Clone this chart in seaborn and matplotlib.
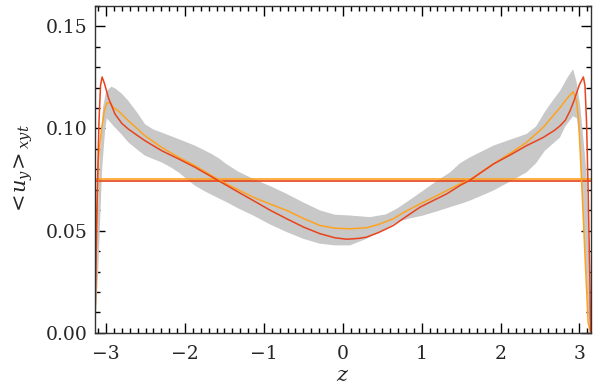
import matplotlib
matplotlib.use("Agg")
import matplotlib.pyplot as plt
import numpy as np
import pandas as pd
import seaborn as sns
from matplotlib.ticker import MultipleLocator

# red profile
z_red = [-3.1416, -3.13, -3.11, -3.09, -3.07, -3.05, -3.02, -2.97, -2.886, -2.80, -2.717, -2.60,
         -2.506, -2.294, -2.08, -1.872, -1.66, -1.50, -1.33, -1.133, -0.92, -0.71, -0.50, -0.288,
         -0.10, 0.05, 0.20, 0.30, 0.45, 0.64, 0.80, 0.98, 1.15, 1.318, 1.49, 1.613, 1.909, 2.12,
         2.33, 2.54, 2.68, 2.754, 2.82, 2.88, 2.93, 2.966, 3.00, 3.05, 3.07, 3.09, 3.11, 3.13, 3.1416]
u_red = [0.0, 0.030, 0.070, 0.103, 0.121, 0.1252, 0.122, 0.115, 0.107, 0.1025, 0.0997, 0.0965,
         0.094, 0.0891, 0.0851, 0.081, 0.0763, 0.0728, 0.0690, 0.0647, 0.0600, 0.0558, 0.0518, 0.0485,
         0.0465, 0.0458, 0.0462, 0.0468, 0.0490, 0.0525, 0.0568, 0.0615, 0.0648, 0.068, 0.0722, 0.0747, 0.0826, 0.0870,
         0.0916, 0.0956, 0.0990, 0.1013, 0.104, 0.1086, 0.1135, 0.1176, 0.1215, 0.1252, 0.121, 0.103, 0.070, 0.030, 0.0]

# orange profile
z_orange = [-3.1416, -3.13, -3.12, -3.097, -3.075, -3.054, -3.02, -2.987, -2.95, -2.90, -2.844, -2.717,
            -2.506, -2.294, -2.08, -1.872, -1.66, -1.555, -1.35, -1.133, -0.92, -0.71, -0.50, -0.288,
            -0.10, 0.093, 0.30, 0.45, 0.64, 0.80, 0.98, 1.15, 1.318, 1.487, 1.613, 1.909, 2.12, 2.33,
            2.54, 2.754, 2.85, 2.92, 2.96, 2.99, 3.03, 3.07, 3.11, 3.1416]
u_orange = [0.0, 0.025, 0.050, 0.084, 0.094, 0.1005, 0.109, 0.1127, 0.1125, 0.110, 0.1086, 0.1038,
            0.0964, 0.0907, 0.0859, 0.0818, 0.0769, 0.0745, 0.0705, 0.0663, 0.0630, 0.0599, 0.0560, 0.0525,
            0.0512, 0.0509, 0.0514, 0.0530, 0.0558, 0.0595, 0.0631, 0.0663, 0.0696, 0.0729, 0.0750, 0.0826, 0.0878, 0.0932,
            0.1005, 0.1102, 0.1150, 0.118, 0.114, 0.104, 0.072, 0.038, 0.005, 0.0]

# grey band, upper and lower edges
z_band_hi = [-3.1416, -3.12, -3.08, -3.04, -3.0, -2.93, -2.88, -2.80, -2.717, -2.60, -2.506, -2.40,
             -2.294, -2.08, -1.872, -1.66, -1.555, -1.49, -1.33, -1.133, -0.92, -0.71, -0.50, -0.288,
             -0.10, 0.093, 0.346, 0.55, 0.684, 0.85, 1.02, 1.20, 1.36, 1.487, 1.613, 1.909, 2.12, 2.33,
             2.45, 2.56, 2.65, 2.754, 2.85, 2.92, 2.966, 3.01, 3.05, 3.09, 3.11, 3.13, 3.1416]
u_band_hi = [0.0, 0.040, 0.085, 0.110, 0.118, 0.1205, 0.1195, 0.117, 0.1135, 0.1075, 0.1021, 0.0995,
             0.098, 0.0948, 0.0916, 0.0875, 0.0850, 0.0830, 0.0790, 0.0753, 0.0718, 0.068, 0.0638, 0.0599,
             0.0578, 0.0574, 0.0566, 0.0580, 0.0607, 0.0650, 0.0696, 0.0745, 0.0785, 0.0830, 0.0859, 0.0916, 0.0945, 0.0973,
             0.1010, 0.108, 0.1130, 0.1184, 0.1250, 0.129, 0.1224, 0.111, 0.0948, 0.0785, 0.057, 0.020, 0.0]
z_band_lo = [-3.1416, -3.10, -3.05, -3.01, -2.99, -2.90, -2.80, -2.717, -2.60, -2.506, -2.40, -2.294,
             -2.18, -2.08, -1.97, -1.872, -1.76, -1.66, -1.555, -1.45, -1.33, -1.133, -0.92, -0.71,
             -0.50, -0.288, -0.10, 0.093, 0.30, 0.50, 0.684, 0.85, 1.02, 1.20, 1.36, 1.487, 1.613,
             1.909, 2.12, 2.33, 2.45, 2.56, 2.754, 2.82, 2.92, 2.966, 3.0, 3.03, 3.07, 3.11, 3.1416]
u_band_lo = [0.0, 0.030, 0.080, 0.100, 0.105, 0.101, 0.097, 0.0932, 0.0895, 0.0867, 0.0850, 0.0834,
             0.0810, 0.0785, 0.0750, 0.0720, 0.0695, 0.0675, 0.0655, 0.0635, 0.0610, 0.0574, 0.0530, 0.0493,
             0.0460, 0.0436, 0.0428, 0.0428, 0.0460, 0.0500, 0.0541, 0.0560, 0.0574, 0.0595, 0.0615, 0.0630, 0.0647,
             0.0696, 0.0740, 0.0785, 0.0830, 0.0890, 0.0956, 0.1010, 0.1060, 0.1050, 0.095, 0.070, 0.040, 0.010, 0.0]

# horizontal mean levels
mean_orange = 0.0751
mean_red = 0.0744

red = "#e8431c"
orange = "#ffa21f"

sns.set_style("ticks")
plt.rcParams["font.family"] = ["DejaVu Serif"]
plt.rcParams["mathtext.fontset"] = "dejavuserif"

fig = plt.figure(figsize=(5.93, 3.92), dpi=100)
ax = fig.add_axes([0.160, 0.151, 0.836, 0.834])

band_z = np.concatenate([z_band_hi, z_band_lo[::-1]])
band_u = np.concatenate([u_band_hi, u_band_lo[::-1]])
ax.fill(band_z, band_u, color="#c8c8c8", lw=0)

ax.axhline(mean_red, color=red, lw=1.2)
ax.axhline(mean_orange, color=orange, lw=1.2)

df_o = pd.DataFrame({"z": z_orange, "u": u_orange})
df_r = pd.DataFrame({"z": z_red, "u": u_red})
sns.lineplot(data=df_o, x="z", y="u", sort=False, estimator=None, color=orange, lw=1.1, ax=ax)
sns.lineplot(data=df_r, x="z", y="u", sort=False, estimator=None, color=red, lw=1.1, ax=ax)

ax.set_xlim(-np.pi, np.pi)
ax.set_ylim(0, 0.16)
ax.xaxis.set_major_locator(MultipleLocator(1))
ax.xaxis.set_minor_locator(MultipleLocator(0.1))
ax.yaxis.set_major_locator(MultipleLocator(0.05))
ax.yaxis.set_minor_locator(MultipleLocator(0.01))
ax.yaxis.set_major_formatter(matplotlib.ticker.FormatStrFormatter("%.2f"))
ax.tick_params(which="both", direction="in", top=True, right=True, color="black", width=1)
ax.tick_params(which="major", length=7, labelsize=13.5)
ax.tick_params(axis="x", which="major", pad=9)
ax.tick_params(axis="y", which="major", pad=5)
ax.tick_params(which="minor", length=3.5)
for s in ax.spines.values():
    s.set_color("#333333")
    s.set_linewidth(1)

ax.set_xlabel(r"$z$", fontsize=15, labelpad=2)
ax.set_ylabel(r"$<\!u_y\!>_{xyt}$", fontsize=15, labelpad=8)

fig.savefig("out.png", dpi=100)
